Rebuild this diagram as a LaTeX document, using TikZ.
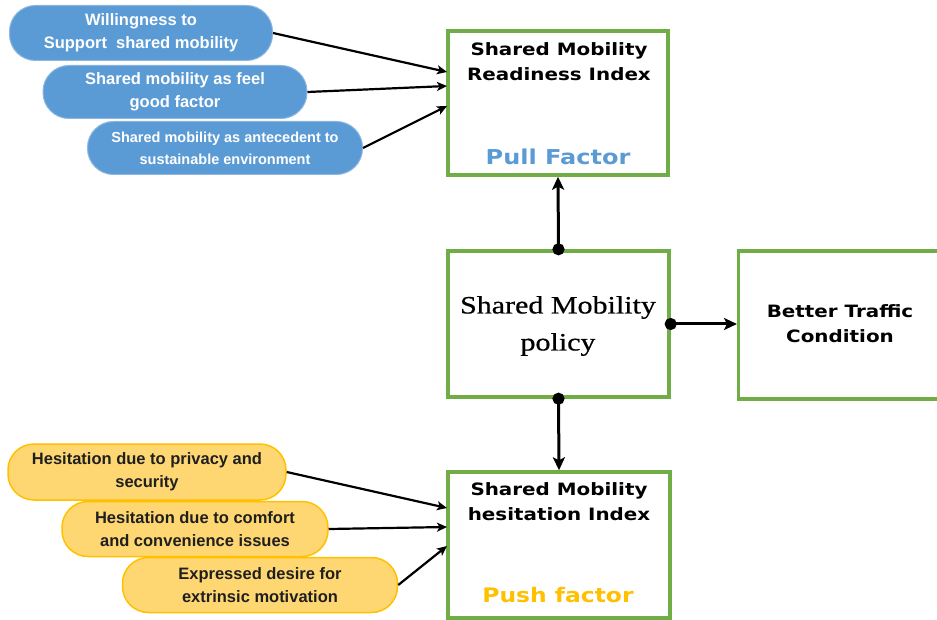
\documentclass[tikz,border=0pt]{standalone}
\usepackage{fontspec}
\usetikzlibrary{arrows.meta}
\newfontfamily\boxfont[FakeStretch=1.17]{DejaVu Sans Bold}
\newfontfamily\ellfont{Liberation Sans Bold}
\newfontfamily\polfont[FakeStretch=1.2, FakeBold=0.6]{Liberation Serif}
\definecolor{boxgreen}{HTML}{70AD47}
\definecolor{ellblue}{HTML}{5B9BD5}
\definecolor{ellblueline}{HTML}{8DB7E2}
\definecolor{pullblue}{HTML}{5B9BD5}
\definecolor{ellorange}{HTML}{FFD772}
\definecolor{ellorangeline}{HTML}{FFC000}
\definecolor{pushorange}{HTML}{FFC000}
\tikzset{
  gbox/.style={draw=boxgreen, line width=3.4pt, fill=white, inner sep=0pt},
  blueell/.style={draw=ellblueline, line width=1pt, fill=ellblue, rounded corners=26pt, inner sep=0pt, text=white, align=center},
  orangeell/.style={draw=ellorangeline, line width=1.5pt, fill=ellorange, rounded corners=26pt, inner sep=0pt, text=black!88, align=center},
  titletext/.style={align=center, font=\boxfont\fontsize{17}{25}\selectfont, text=black},
  mainarrow/.style={line width=3pt, {Circle[length=12pt]}-{Stealth[length=13pt,width=12pt,inset=3pt]}, shorten <=-6pt},
  inarrow/.style={line width=2.2pt, -{Stealth[length=10pt,width=9pt,inset=2.5pt]}}
}
\begin{document}
\begin{tikzpicture}[x=1pt,y=-1pt]
\useasboundingbox (0,0) rectangle (937,620);
% boxes
\node[gbox, minimum width=220pt, minimum height=144pt] (ready) at (558,103) {};
\node[gbox, minimum width=221pt, minimum height=146pt] (policy) at (558.5,324) {};
\node[gbox, minimum width=210pt, minimum height=148pt, anchor=west] (traffic) at (737,325) {};
\node[gbox, minimum width=222pt, minimum height=146pt] (hes) at (559,545) {};
% box texts
\node[titletext] (readyt) at (559,62) {Shared Mobility\\Readiness Index};
\node[font=\boxfont\fontsize{20.5}{24}\selectfont, text=pullblue] (pull) at (558,157) {Pull Factor};
\node[align=center, font=\polfont\fontsize{25}{37}\selectfont] (policyt) at (558,326) {Shared Mobility\\policy};
\node[titletext] (trafft) at (840,324) {Better Traffic\\Condition};
\node[titletext] (hest) at (559,502) {Shared Mobility\\hesitation Index};
\node[font=\boxfont\fontsize{20}{24}\selectfont, text=pushorange] (push) at (558,595) {Push factor};
% blue ellipses
\node[blueell, minimum width=263pt, minimum height=55pt, font=\ellfont\fontsize{16.5}{23}\selectfont] (b1) at (141,33) {Willingness to\\Support\ \ shared mobility};
\node[blueell, minimum width=264pt, minimum height=53pt, font=\ellfont\fontsize{16.5}{23}\selectfont] (b2) at (175,92) {Shared mobility as feel\\good factor};
\node[blueell, minimum width=275pt, minimum height=53pt, font=\ellfont\fontsize{14.5}{22}\selectfont] (b3) at (225,148) {Shared mobility as antecedent to\\sustainable environment};
% orange ellipses
\node[orangeell, minimum width=278pt, minimum height=56pt, font=\ellfont\fontsize{16.5}{23}\selectfont] (o1) at (147,472) {Hesitation due to privacy and\\security};
\node[orangeell, minimum width=266pt, minimum height=55pt, font=\ellfont\fontsize{16.5}{23}\selectfont] (o2) at (195,529) {Hesitation due to comfort\\and convenience issues};
\node[orangeell, minimum width=275pt, minimum height=55pt, font=\ellfont\fontsize{16.5}{23}\selectfont] (o3) at (260,585) {Expressed desire for\\extrinsic motivation};
% target points on box sides
\coordinate (r1) at (447,72);
\coordinate (r2) at (447,86);
\coordinate (r3) at (447,106);
\coordinate (h1) at (447,508);
\coordinate (h2) at (447,527);
\coordinate (h3) at (447,546);
\draw[inarrow] (b1.east) -- (r1);
\draw[inarrow] (b2.east) -- (r2);
\draw[inarrow] (b3.east) -- (r3);
\draw[inarrow] (o1.east) -- (h1);
\draw[inarrow] (o2.east) -- (h2);
\draw[inarrow] (o3.east) -- (h3);
% main arrows
\draw[mainarrow] (policy.north) -- (ready.south);
\draw[mainarrow] (policy.south) -- (hes.north);
\draw[mainarrow] (policy.east |- trafft) -- (traffic.west |- trafft);
\end{tikzpicture}
\end{document}
